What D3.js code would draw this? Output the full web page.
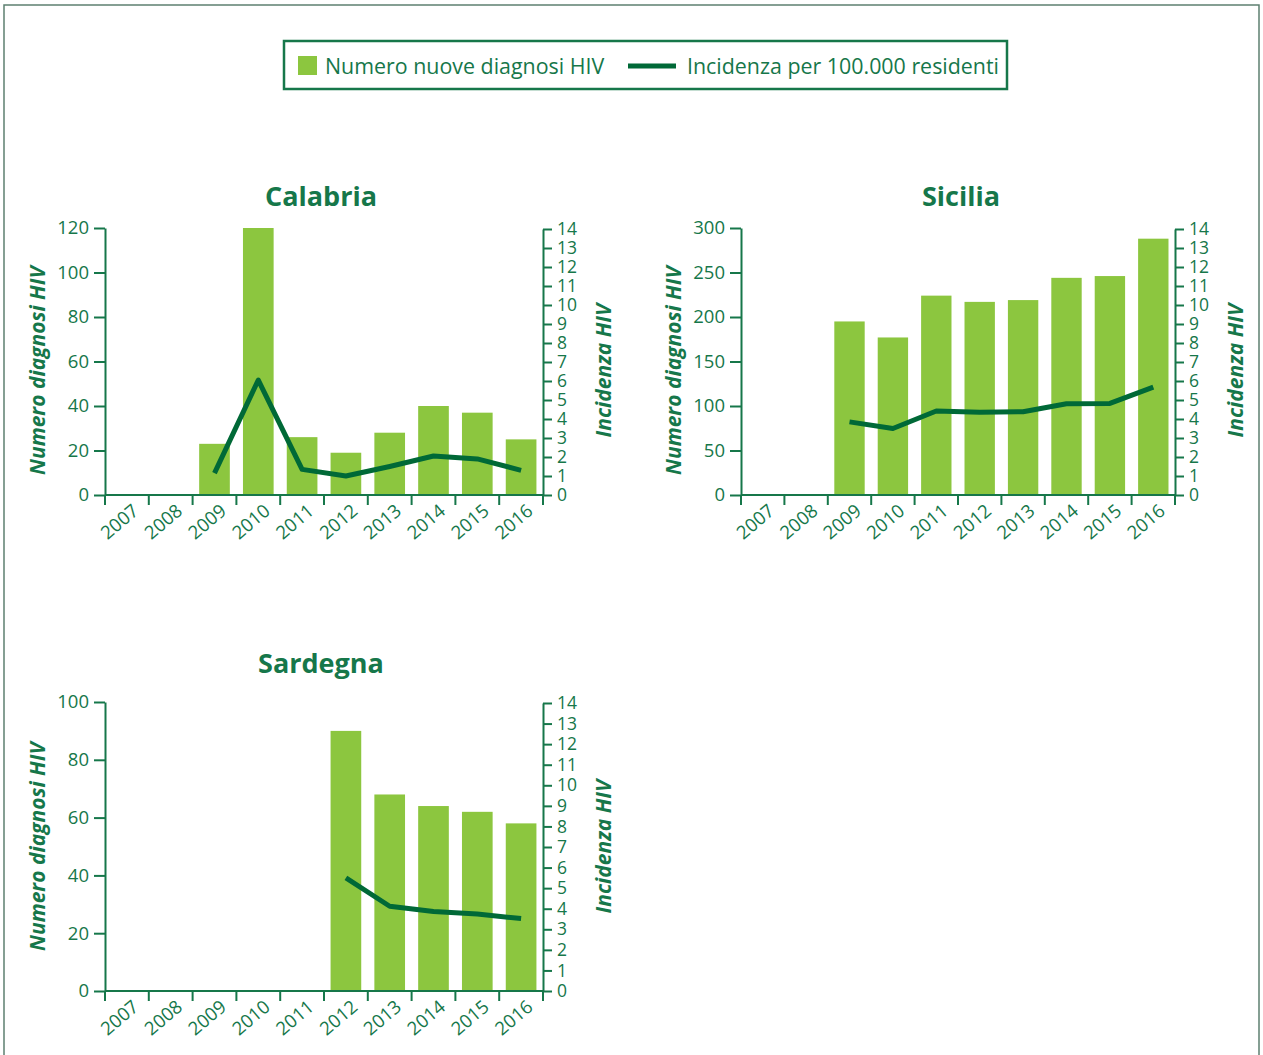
<!DOCTYPE html>
<html lang="it">
<head>
    <meta charset="UTF-8">
    <title>Diagnosi HIV - Calabria, Sicilia, Sardegna</title>
    <style>
        html, body { margin: 0; padding: 0; background: #fff; overflow: hidden; }
        text { font-family: "Open Sans", sans-serif; fill: #16774a; }
        .domain, .tick line { stroke: #16774a; stroke-width: 2; }
    </style>
</head>
<body>
<script src="https://cdn.jsdelivr.net/npm/d3@7/dist/d3.min.js"></script>
<script>
    const years = ['2007', '2008', '2009', '2010', '2011', '2012', '2013', '2014', '2015', '2016']

    // numero nuove diagnosi (null = dato non disponibile)
    const calabriaCases = [null, null, 23, 120, 26, 19, 28, 40, 37, 25]
    const calabriaRate = [null, null, 1.15, 6.05, 1.35, 1.0, 1.5, 2.05, 1.9, 1.3]

    const siciliaCases = [null, null, 195, 177, 224, 217, 219, 244, 246, 288]
    const siciliaRate = [null, null, 3.85, 3.5, 4.42, 4.35, 4.38, 4.8, 4.82, 5.68]

    const sardegnaCases = [null, null, null, null, null, 90, 68, 64, 62, 58]
    const sardegnaRate = [null, null, null, null, null, 5.5, 4.12, 3.86, 3.74, 3.52]

    const calabriaTicks = [0, 20, 40, 60, 80, 100, 120]
    const siciliaTicks = [0, 50, 100, 150, 200, 250, 300]
    const sardegnaTicks = [0, 20, 40, 60, 80, 100]
    const rateTicks = d3.range(0, 15)

    const legendLabels = ['Numero nuove diagnosi HIV', 'Incidenza per 100.000 residenti']

    const barColor = '#8cc63f'
    const lineColor = '#006937'
    const inkColor = '#16774a'

    const width = 1263
    const height = 1055

    const svg = d3.select('body').append('svg')
        .attr('width', width)
        .attr('height', height)

    // outer frame (open at the bottom)
    svg.append('path')
        .attr('d', `M4,${height} V5 H1259 V${height}`)
        .attr('fill', 'none')
        .attr('stroke', '#5d8070')
        .attr('stroke-width', 1.5)

    // legend
    const legend = svg.append('g')
    legend.append('rect')
        .attr('x', 284).attr('y', 41)
        .attr('width', 723).attr('height', 48)
        .attr('fill', 'none')
        .attr('stroke', inkColor)
        .attr('stroke-width', 2.5)
    legend.append('rect')
        .attr('x', 298).attr('y', 56)
        .attr('width', 19).attr('height', 19)
        .attr('fill', barColor)
    legend.append('text')
        .attr('x', 325).attr('y', 74)
        .attr('font-size', 21.4)
        .text(legendLabels[0])
    legend.append('line')
        .attr('x1', 628).attr('x2', 676)
        .attr('y1', 66).attr('y2', 66)
        .attr('stroke', lineColor)
        .attr('stroke-width', 5)
    legend.append('text')
        .attr('x', 687).attr('y', 74)
        .attr('font-size', 21.4)
        .text(legendLabels[1])

    function panel(opts) {
        const { title, cases, rate, ticks, x0, x1, top, bottom, titleX, titleY, labelShift } = opts
        const g = svg.append('g')

        const x = d3.scaleBand().domain(years).range([x0, x1]).padding(0)
        const yL = d3.scaleLinear().domain([0, d3.max(ticks)]).range([bottom, top])
        const yR = d3.scaleLinear().domain([0, 14]).range([bottom, top + 1])

        const rows = years.map((yr, i) => ({ year: yr, cases: cases[i], rate: rate[i] }))

        // bars
        g.selectAll('.bar')
            .data(rows.filter(d => d.cases != null))
            .join('rect')
            .attr('class', 'bar')
            .attr('x', d => x(d.year) + x.bandwidth() * 0.15)
            .attr('width', x.bandwidth() * 0.7)
            .attr('y', d => yL(d.cases))
            .attr('height', d => yL(0) - yL(d.cases))
            .attr('fill', barColor)

        // line
        const line = d3.line()
            .defined(d => d.rate != null)
            .x(d => x(d.year) + x.bandwidth() / 2)
            .y(d => yR(d.rate))
        g.append('path')
            .datum(rows)
            .attr('d', line)
            .attr('fill', 'none')
            .attr('stroke', lineColor)
            .attr('stroke-width', 5)
            .attr('stroke-linejoin', 'round')

        // left axis
        const axL = g.append('g')
            .attr('transform', `translate(${x0},0)`)
            .call(d3.axisLeft(yL).tickValues(ticks).tickSize(11).tickSizeOuter(0).tickPadding(5))
        axL.selectAll('text').attr('font-size', 18.5).attr('font-family', null)

        // right axis
        const axR = g.append('g')
            .attr('transform', `translate(${x1},0)`)
            .call(d3.axisRight(yR).tickValues(rateTicks).tickSize(9).tickSizeOuter(0).tickPadding(5))
        axR.selectAll('text').attr('font-size', 17.5).attr('font-family', null)

        // x axis with ticks on band boundaries
        const axB = g.append('g').attr('transform', `translate(0,${bottom})`)
        axB.append('line')
            .attr('class', 'domain')
            .attr('x1', x0).attr('x2', x1)
        axB.selectAll('.edge')
            .data(years.concat(['end']))
            .join('line')
            .attr('class', 'edge')
            .attr('x1', d => d === 'end' ? x1 : x(d))
            .attr('x2', d => d === 'end' ? x1 : x(d))
            .attr('y1', 0).attr('y2', 10)
            .attr('stroke', inkColor)
            .attr('stroke-width', 2)
        axB.selectAll('.yr')
            .data(years)
            .join('text')
            .attr('class', 'yr')
            .attr('font-size', 18.5)
            .attr('text-anchor', 'end')
            .attr('transform', d => `translate(${x(d) + x.bandwidth() / 2 + 13},${18}) rotate(-40)`)
            .text(d => d)

        // titles
        g.append('text')
            .attr('x', titleX)
            .attr('y', titleY)
            .attr('text-anchor', 'middle')
            .attr('font-size', 27)
            .attr('font-weight', 'bold')
            .text(title)

        const midY = (top + bottom) / 2 + labelShift
        g.append('text')
            .attr('transform', `translate(${x0 - 60},${midY}) rotate(-90)`)
            .attr('text-anchor', 'middle')
            .attr('font-size', 21)
            .attr('font-weight', 'bold')
            .attr('font-style', 'italic')
            .text('Numero diagnosi HIV')

        g.append('text')
            .attr('transform', `translate(${x1 + 68},${midY}) rotate(-90)`)
            .attr('text-anchor', 'middle')
            .attr('font-size', 21)
            .attr('font-weight', 'bold')
            .attr('font-style', 'italic')
            .text('Incidenza HIV')
    }

    panel({ title: 'Calabria', cases: calabriaCases, rate: calabriaRate, ticks: calabriaTicks,
        x0: 105, x1: 543, top: 228, bottom: 495, titleX: 321, titleY: 206, labelShift: 9 })
    panel({ title: 'Sicilia', cases: siciliaCases, rate: siciliaRate, ticks: siciliaTicks,
        x0: 741, x1: 1175, top: 228, bottom: 495, titleX: 961, titleY: 206, labelShift: 9 })
    panel({ title: 'Sardegna', cases: sardegnaCases, rate: sardegnaRate, ticks: sardegnaTicks,
        x0: 105, x1: 543, top: 702, bottom: 991, titleX: 321, titleY: 673, labelShift: 0 })
</script>
</body>
</html>
